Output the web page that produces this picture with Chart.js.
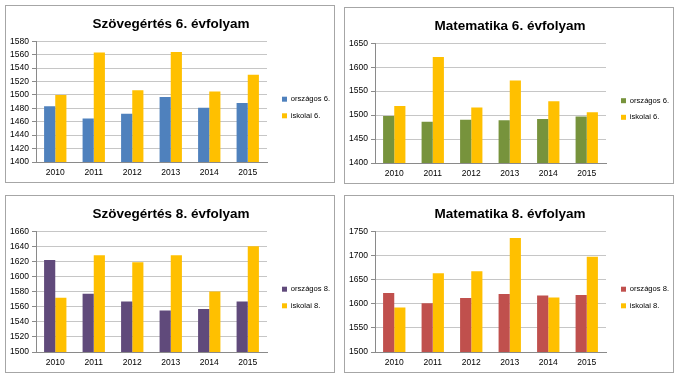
<!DOCTYPE html>
<html><head><meta charset="utf-8">
<script src="https://cdn.jsdelivr.net/npm/chart.js@4.4.1/dist/chart.umd.min.js"></script>
<style>
body{margin:0;background:#fff;width:680px;height:378px;overflow:hidden;position:relative}
.p{position:absolute;border:1px solid #a6a6a6;background:#fff}
canvas{display:block}
</style></head><body>
<div class="p" style="left:5px;top:5px;width:328px;height:176px"><canvas id="c1" width="328" height="176"></canvas></div>
<div class="p" style="left:344px;top:7px;width:328px;height:175px"><canvas id="c2" width="328" height="175"></canvas></div>
<div class="p" style="left:5px;top:195px;width:328px;height:176px"><canvas id="c3" width="328" height="176"></canvas></div>
<div class="p" style="left:344px;top:195px;width:328px;height:176px"><canvas id="c4" width="328" height="176"></canvas></div>
<script>
const years = ['2010','2011','2012','2013','2014','2015'];
const szov6Orszagos = [1483,1465,1472,1497,1481,1488];
const szov6Iskolai  = [1500,1563,1507,1564,1505,1530];
const mat6Orszagos  = [1498,1486,1490,1489,1492,1497];
const mat6Iskolai   = [1519,1621,1516,1572,1529,1506];
const szov8Orszagos = [1622,1577,1567,1555,1557,1567];
const szov8Iskolai  = [1572,1628,1619,1628,1580,1640];
const mat8Orszagos  = [1622,1601,1612,1620,1617,1618];
const mat8Iskolai   = [1592,1663,1667,1736,1613,1697];

const titles = ['Szövegértés 6. évfolyam','Matematika 6. évfolyam','Szövegértés 8. évfolyam','Matematika 8. évfolyam'];
const labels6 = ['országos 6.','iskolai 6.'];
const labels8 = ['országos 8.','iskolai 8.'];
const yRanges = [[1400,1580,20],[1400,1650,50],[1500,1660,20],[1500,1750,50]];

const FONT = "'Liberation Sans', Arial, sans-serif";

const legendFix = {
  id:'legendFix',
  beforeLayout(chart){
    const lg = chart.legend;
    if(lg && !lg._patched){
      const f = lg.fit.bind(lg);
      lg.fit = function(){ f(); this.width = 67; };
      lg._patched = true;
    }
  },
  afterLayout(chart){
    const lg = chart.legend;
    lg.left += 6; lg.right += 6;
    lg.top += 15; lg.bottom += 15;
  }
};

function make(id, title, names, a, b, colA, range){
  new Chart(document.getElementById(id), {
    type:'bar',
    data:{labels:years, datasets:[
      {label:names[0], data:a, backgroundColor:colA, categoryPercentage:0.58, barPercentage:1.0},
      {label:names[1], data:b, backgroundColor:'#FFC000', categoryPercentage:0.58, barPercentage:1.0}
    ]},
    plugins:[legendFix],
    options:{
      responsive:false, animation:false,
      layout:{padding:{left:2,right:0,top:0,bottom:3}},
      plugins:{
        title:{display:true, text:title, color:'#000', font:{family:FONT, size:13.5, weight:'bold'}, padding:{top:10,bottom:9}},
        legend:{position:'right', labels:{boxWidth:5, boxHeight:5, color:'#000', font:{family:FONT, size:7.6}, padding:9}},
        tooltip:{enabled:false}
      },
      scales:{
        x:{grid:{display:false, drawTicks:false}, border:{color:'#8a8a8a'},
           ticks:{color:'#000', font:{family:FONT, size:8.5}, padding:6},
           afterFit(s){ s.height = 17; }},
        y:{min:range[0], max:range[1], grid:{color:'#c6c6c6', tickLength:4, tickColor:'#8a8a8a'},
           border:{color:'#8a8a8a'},
           ticks:{stepSize:range[2], autoSkip:false, color:'#000', font:{family:FONT, size:8.5}, padding:3,
                  callback:(v)=>String(v)},
           afterFit(s){ s.width = 28; }}
      }
    }
  });
}
make('c1', titles[0], labels6, szov6Orszagos, szov6Iskolai, '#4F81BD', yRanges[0]);
make('c2', titles[1], labels6, mat6Orszagos, mat6Iskolai, '#77933C', yRanges[1]);
make('c3', titles[2], labels8, szov8Orszagos, szov8Iskolai, '#604A7B', yRanges[2]);
make('c4', titles[3], labels8, mat8Orszagos, mat8Iskolai, '#C0504D', yRanges[3]);
</script>
</body></html>
